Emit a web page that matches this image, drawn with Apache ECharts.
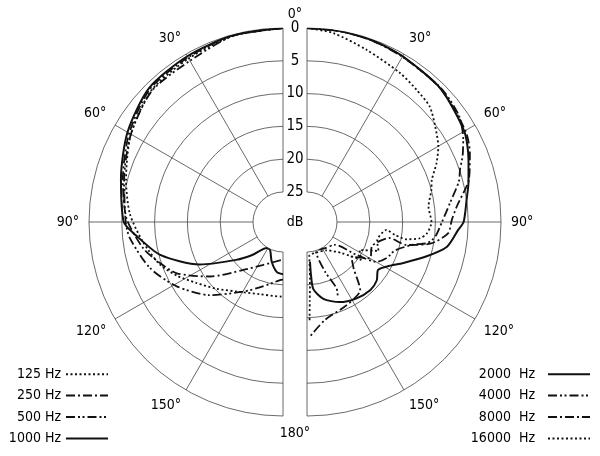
<!DOCTYPE html>
<html>
<head>
<meta charset="utf-8">
<title>Polar pattern</title>
<script src="https://cdn.jsdelivr.net/npm/echarts@6/dist/echarts.min.js"></script>
<style>
html, body { margin: 0; padding: 0; background: #fff; }
#chart { width: 600px; height: 456px; }
</style>
</head>
<body>
<div id="chart"></div>
<script>
var FONT = "'DejaVu Sans Condensed', 'Liberation Sans Narrow', sans-serif";

// tick labels
var dbTicks = [0, 5, 10, 15, 20, 25];
var angleTicks = [0, 30, 60, 90, 120, 150, 180];

// [angle in degrees, attenuation in dB]
// left half
var hz125 = [[0,0],[15,0.2],[30,0.8],[45,1.2],[60,2.8],[75,4.8],[87,6.2],[98,8.0],[109,9.7],[117,11.5],[125,13.4],[135,15.2],[146,16.8],[162,18.0],[179,18.2],[180,18.2]];
var hz250 = [[0,0],[15,0.1],[30,0.6],[45,0.9],[60,2.5],[75,4.3],[88.6,5.7],[100.7,7.9],[108,9.7],[115.8,11.6],[126.8,15.7],[140.4,20.1],[154.5,22.3],[178,23.8],[180,23.9]];
var hz500 = [[0,0],[15,0.2],[30,1.2],[45,1.3],[60,2.8],[75,4.5],[90,5.6],[96,6.1],[109,8.1],[121,10.6],[135,13.8],[150,17.3],[162,19.2],[177,20.7],[180,20.8]];
var hz1000 = [[0,0],[15,0.1],[30,0.4],[45,0.7],[60,2.2],[75,4.0],[90,5.3],[95,7.0],[105,10.2],[117,15.3],[129,20.4],[137,22.7],[148,24.9],[155,24.9],[164,23.3],[172.8,21.9],[180,21.6]];
// right half
var hz2000 = [[0,0],[10,0.05],[20,0.15],[30,0.4],[45,0.8],[60,1.9],[69,3.2],[76,4.2],[82,5.0],[90,5.7],[93,6.5],[100,7.9],[106,10.6],[113,13.6],[119,15.6],[124,16.5],[130,15.7],[137,15.4],[147,15.7],[158,16.4],[168,17.6],[174.6,19.3],[175.7,21.5],[175.7,23.5]];
var hz4000 = [[0,0],[10,0.05],[20,0.2],[30,0.5],[45,0.7],[55,1.3],[62,2.6],[67,3.8],[71,4.9],[75,5.6],[82.5,7.6],[90,9.0],[96.5,9.9],[100,11.0],[102,13.0],[108,15.5],[114,16.2],[119.7,17.3],[123.6,20.5],[129.4,24.1],[145,24.7],[163,24.9],[160,21.5],[156,18.5],[158,17]];
var hz8000 = [[0,0],[10,0.05],[20,0.2],[30,0.45],[45,0.8],[60,1.7],[67,2.6],[75,4.0],[84,6.6],[89.2,7.5],[94.6,8.0],[100,10.5],[103,14.0],[101,16.8],[110,19],[120,18.5],[128,21],[135,19.5],[142,16.4],[155,15.5],[169.6,14.4],[178.5,12.1]];
var hz16000 = [[0,0],[7.9,0.5],[19.1,1.8],[32,2.8],[39.7,3.4],[46.8,3.9],[53.3,5.2],[60.2,6.5],[65.6,7.9],[71.4,9.5],[75.6,10.0],[82.8,10.9],[90,10.6],[95.4,11.2],[98.2,12.2],[99.8,14.1],[98.4,16.0],[95.7,17.4],[105,18.5],[112,17.8],[118,20.5],[125,19.5],[132,22.5],[145,24.3],[165,24.7],[176,24.4],[177,21],[178,17.5],[178.5,14.6]];

var DOTTED = [2, 2.5];
var DASHDOT = [9, 3, 2, 3];
var DASHDOTDOT = [9, 3, 2, 2.5, 2, 3];
var GRID = '#444';

var chart = echarts.init(document.getElementById('chart'));

function makeSeries(name, pts, polarIndex, dash, width) {
    return {
        name: name,
        type: 'line',
        coordinateSystem: 'polar',
        polarIndex: polarIndex,
        symbol: 'none',
        showSymbol: false,
        smooth: 0.25,
        silent: true,
        z: 3,
        data: pts.map(function (p) { return [p[1], p[0]]; }),
        lineStyle: { color: '#111', width: width, type: dash }
    };
}

// half rings: one arc per dB tick, radius taken from the polar scale
function ringSeries(polarIndex, leftSide) {
    return {
        type: 'custom',
        coordinateSystem: 'polar',
        polarIndex: polarIndex,
        silent: true,
        z: 1,
        data: dbTicks.map(function (v) { return [v, 0]; }),
        renderItem: function (params, api) {
            var cs = params.coordSys;
            var p = api.coord([api.value(0), 0]);
            var r = Math.sqrt((p[0] - cs.cx) * (p[0] - cs.cx) + (p[1] - cs.cy) * (p[1] - cs.cy));
            return {
                type: 'arc',
                shape: {
                    cx: cs.cx, cy: cs.cy, r: r,
                    startAngle: leftSide ? Math.PI / 2 : -Math.PI / 2,
                    endAngle: leftSide ? Math.PI * 1.5 : Math.PI / 2,
                    clockwise: true
                },
                style: { stroke: GRID, lineWidth: 0.8, fill: null }
            };
        }
    };
}

function angleAxis(idx, endAngle, clockwise) {
    return {
        polarIndex: idx,
        type: 'value',
        min: angleTicks[0],
        max: angleTicks[angleTicks.length - 1],
        interval: 30,
        startAngle: 90,
        endAngle: endAngle,
        clockwise: clockwise,
        axisLine: { show: false },
        axisTick: { show: false },
        splitLine: { lineStyle: { color: GRID, width: 0.8 } },
        axisLabel: {
            color: '#000', fontSize: 14, fontFamily: FONT, margin: 10,
            formatter: function (v) { return (v === 0 || v === 180) ? '' : v + '°'; }
        }
    };
}

function radiusAxis(idx, showLabel) {
    return {
        polarIndex: idx,
        type: 'value',
        min: dbTicks[0],
        max: dbTicks[dbTicks.length - 1],
        interval: 5,
        inverse: true,
        axisLine: { show: false },
        axisTick: { show: false },
        splitLine: { show: false },
        axisLabel: {
            show: showLabel, color: '#000', fontSize: 15, fontFamily: FONT,
            margin: 12, align: 'center', verticalAlign: 'middle'
        }
    };
}

function legend(names, right, gap, tail) {
    return {
        data: names,
        orient: 'vertical',
        right: right,
        top: 362,
        align: 'right',
        itemWidth: 42,
        itemHeight: 18,
        itemGap: 7,
        selectedMode: false,
        itemStyle: { opacity: 0 },
        formatter: function (n) { return n.replace(' ', gap) + tail; },
        textStyle: { color: '#000', fontSize: 14, fontFamily: FONT }
    };
}

function label(text, x, y) {
    return {
        type: 'text', x: x, y: y, silent: true,
        style: {
            text: text, fill: '#000', fontSize: 14, fontFamily: FONT,
            align: 'center', verticalAlign: 'middle',
            textAlign: 'center', textVerticalAlign: 'middle'
        }
    };
}

var option = {
    animation: false,
    backgroundColor: '#fff',
    polar: [
        { center: [283, 222], radius: [30, 194] },
        { center: [307, 222], radius: [30, 194] }
    ],
    angleAxis: [angleAxis(0, 270, false), angleAxis(1, -90, true)],
    radiusAxis: [radiusAxis(0, false), radiusAxis(1, true)],
    legend: [
        legend(['125 Hz', '250 Hz', '500 Hz', '1000 Hz'], 486, ' ', ''),
        legend(['2000 Hz', '4000 Hz', '8000 Hz', '16000 Hz'], 4, '  ', '  ')
    ],
    graphic: [label('0°', 295, 14), label('180°', 295, 433), label('dB', 295, 222)],
    series: [
        ringSeries(0, true),
        ringSeries(1, false),
        makeSeries('125 Hz', hz125, 0, DOTTED, 1.8),
        makeSeries('250 Hz', hz250, 0, DASHDOT, 1.8),
        makeSeries('500 Hz', hz500, 0, DASHDOTDOT, 1.8),
        makeSeries('1000 Hz', hz1000, 0, 'solid', 2),
        makeSeries('2000 Hz', hz2000, 1, 'solid', 2),
        makeSeries('4000 Hz', hz4000, 1, DASHDOTDOT, 1.8),
        makeSeries('8000 Hz', hz8000, 1, DASHDOT, 1.8),
        makeSeries('16000 Hz', hz16000, 1, DOTTED, 1.8)
    ]
};

chart.setOption(option);
</script>
</body>
</html>
